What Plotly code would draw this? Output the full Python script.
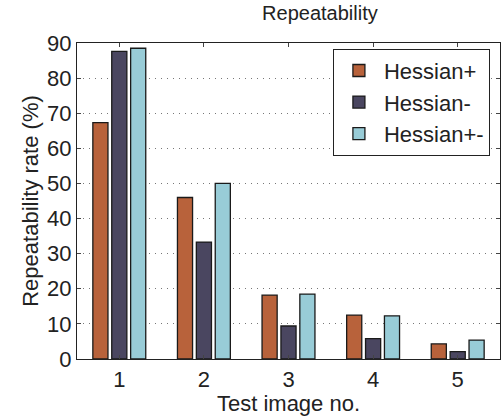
import plotly.graph_objects as go

categories = [1, 2, 3, 4, 5]
hessian_plus = [67.3, 46.0, 18.2, 12.5, 4.3]
hessian_minus = [87.6, 33.3, 9.4, 5.8, 2.1]
hessian_pm = [88.5, 50.0, 18.5, 12.3, 5.4]
series_names = ["Hessian+", "Hessian-", "Hessian+-"]
colors = ["#B8623B", "#4A4660", "#98CCD7"]
y_ticks = [0, 10, 20, 30, 40, 50, 60, 70, 80, 90]

fig = go.Figure()
for name, vals, col in zip(series_names, [hessian_plus, hessian_minus, hessian_pm], colors):
    fig.add_trace(go.Bar(x=categories, y=vals, name=name, marker_color=col,
                         marker_line_color="#1a1a1a", marker_line_width=1.3))

font = "Liberation Sans, Arial, Helvetica, sans-serif"
fig.update_layout(
    width=503, height=416,
    margin=dict(l=77, r=3, t=43, b=57),
    paper_bgcolor="white", plot_bgcolor="white",
    barmode="group", bargap=0.33, bargroupgap=0.2,
    font=dict(family=font, size=22, color="#222"),
    title=dict(text="Repeatability", x=0.636, xanchor="center", y=0.985, yanchor="top",
               font=dict(size=20, color="#222")),
    legend=dict(x=0.605, y=0.982, xanchor="left", yanchor="top",
                bordercolor="#222", borderwidth=1, bgcolor="white",
                font=dict(size=22, color="#222"), tracegroupgap=0, itemwidth=40),
    showlegend=True,
)
fig.update_xaxes(range=[0.5, 5.5], tickvals=categories, ticks="inside", ticklen=4,
                 showline=True, linecolor="#222", linewidth=1.2, mirror="ticks",
                 showgrid=False, zeroline=False,
                 title=dict(text="Test image no.", standoff=0, font=dict(size=22)),
                 tickfont=dict(size=22))
fig.update_yaxes(range=[0, 90], tickvals=y_ticks, ticks="inside", ticklen=4,
                 showline=True, linecolor="#222", linewidth=1.2, mirror="ticks",
                 showgrid=True, gridcolor="#777", griddash="1px,5px", gridwidth=1,
                 zeroline=False,
                 title=dict(text="Repeatability rate (%)", standoff=2, font=dict(size=22)),
                 tickfont=dict(size=22))

fig.write_html("out.html")
